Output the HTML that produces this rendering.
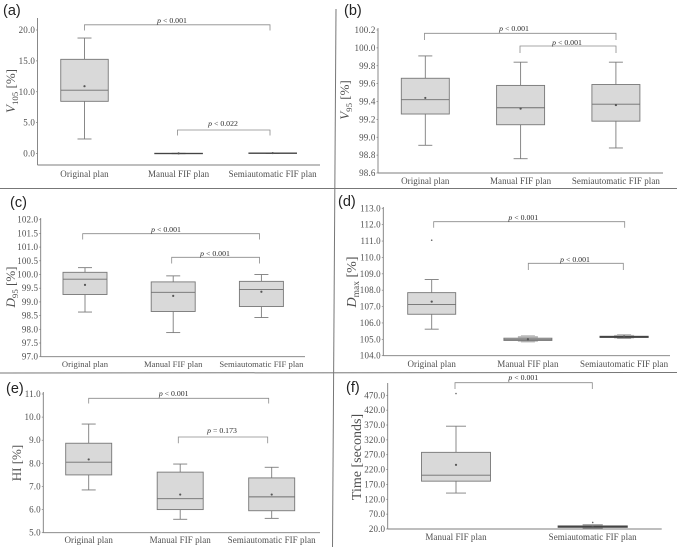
<!DOCTYPE html>
<html lang="en">
<head>
<meta charset="utf-8">
<title>Box plots of plan comparison</title>
<style>
html,body{margin:0;padding:0;background:#fff;}
svg{display:block;filter:blur(0.3px);font-family:"Liberation Serif",serif;}
</style>
</head>
<body>
<svg id="figure" xmlns="http://www.w3.org/2000/svg" width="677" height="547" viewBox="0 0 677 547">
  <rect x="0" y="0" width="677" height="547" fill="#fff"/>
  <line x1="0" y1="188.5" x2="677" y2="188.5" stroke="#777" stroke-width="1"/>
  <line x1="0" y1="373" x2="677" y2="372.5" stroke="#777" stroke-width="1"/>
  <line x1="336" y1="9" x2="332.5" y2="547" stroke="#777" stroke-width="1"/>
</svg>
<script>
// Shared categories
const threeCategories = ["Original plan", "Manual FIF plan", "Semiautomatic FIF plan"];
const twoCategories = ["Manual FIF plan", "Semiautomatic FIF plan"];

// Panel (a) V105
const aTicks = [0, 5, 10, 15, 20];
const aWhiskerHigh = [18.7, 0.03, 0.08];
const aQ3 = [15.25, 0.02, 0.07];
const aMedian = [10.25, 0, 0.05];
const aQ1 = [8.45, -0.02, 0.03];
const aWhiskerLow = [2.35, -0.03, 0.02];
const aMean = [10.9, 0.02, 0.07];
const aOutliers = [[], [], []];

// Panel (b) V95
const bTicks = [98.6, 98.8, 99, 99.2, 99.4, 99.6, 99.8, 100, 100.2];
const bWhiskerHigh = [99.91, 99.84, 99.84];
const bQ3 = [99.66, 99.58, 99.59];
const bMedian = [99.42, 99.33, 99.37];
const bQ1 = [99.26, 99.14, 99.18];
const bWhiskerLow = [98.91, 98.76, 98.88];
const bMean = [99.44, 99.32, 99.36];
const bOutliers = [[], [], []];

// Panel (c) D95
const cTicks = [97, 97.5, 98, 98.5, 99, 99.5, 100, 100.5, 101, 101.5, 102];
const cWhiskerHigh = [100.25, 99.95, 100.0];
const cQ3 = [100.08, 99.73, 99.75];
const cMedian = [99.83, 99.35, 99.45];
const cQ1 = [99.27, 98.65, 98.83];
const cWhiskerLow = [98.63, 97.88, 98.43];
const cMean = [99.62, 99.22, 99.37];
const cOutliers = [[], [], []];

// Panel (d) Dmax
const dTicks = [104, 105, 106, 107, 108, 109, 110, 111, 112, 113];
const dWhiskerHigh = [108.65, 105.2, 105.27];
const dQ3 = [107.85, 105.07, 105.18];
const dMedian = [107.13, 105.0, 105.15];
const dQ1 = [106.53, 104.93, 105.12];
const dWhiskerLow = [105.62, 104.85, 105.05];
const dMean = [107.3, 105.0, 105.18];
const dOutliers = [[111.05], [], []];

// Panel (e) HI
const eTicks = [5, 6, 7, 8, 9, 10, 11];
const eWhiskerHigh = [9.7, 7.97, 7.83];
const eQ3 = [8.87, 7.62, 7.37];
const eMedian = [8.05, 6.47, 6.55];
const eQ1 = [7.5, 6.0, 5.95];
const eWhiskerLow = [6.85, 5.58, 5.62];
const eMean = [8.17, 6.65, 6.65];
const eOutliers = [[], [], []];

// Panel (f) Time
const fTicks = [20, 70, 120, 170, 220, 270, 320, 370, 420, 470];
const fWhiskerHigh = [366, 35];
const fQ3 = [278, 30];
const fMedian = [201, 28];
const fQ1 = [181, 26];
const fWhiskerLow = [141, 23];
const fMean = [236, 28];
const fOutliers = [[476], [42]];

const svg = document.getElementById('figure');
const NS = 'http://www.w3.org/2000/svg';
const INK = '#7c7c7c';
const TEXT = '#4f4f4f';

function make(parent, tag, attrs, text) {
  const node = document.createElementNS(NS, tag);
  for (const key in attrs) node.setAttribute(key, attrs[key]);
  if (text !== undefined) node.textContent = text;
  parent.appendChild(node);
  return node;
}

function drawPanel(p) {
  const yOf = v => p.yFirst + (v - p.ticks[0]) / (p.ticks[p.ticks.length - 1] - p.ticks[0]) * (p.yLast - p.yFirst);
  const xOf = i => p.c0 + i * p.step;

  const g = make(svg, 'g', {});
  
  

  const letter = make(g, 'text', {x: p.letter[0], y: p.letter[1], 'font-family': '"Liberation Sans",sans-serif', 'font-size': 14.5, fill: '#222'}, '(' + p.id + ')');
  
  

  const yAxis = make(g, 'line', {x1: p.ax, x2: p.ax, y1: p.top, y2: p.bottom, stroke: INK, 'stroke-width': 0.9});
  
  

  const xAxis = make(g, 'line', {x1: p.ax, x2: p.xEnd, y1: p.bottom, y2: p.bottom, stroke: INK, 'stroke-width': 0.9});
  
  

  p.ticks.forEach(t => {
    const tick = make(g, 'line', {x1: p.ax - 1.5, x2: p.ax, y1: yOf(t), y2: yOf(t), stroke: INK, 'stroke-width': 0.7});
    
    

    const label = make(g, 'text', {x: p.ax - 2.5, y: yOf(t) + 3, 'text-anchor': 'end', 'font-size': 9, 'letter-spacing': 0.15, fill: TEXT}, t.toFixed(1));
    
    
  });

  const title = make(g, 'text', {transform: 'translate(' + p.title.x + ',' + p.title.y + ') rotate(-90)', 'text-anchor': 'middle', 'font-size': p.title.size, fill: TEXT});
  
  
  if (p.title.sub) {
    make(title, 'tspan', {'font-style': 'italic'}, p.title.main);
    make(title, 'tspan', {dy: 3, 'font-size': p.title.size * 0.68}, p.title.sub);
    make(title, 'tspan', {dy: -3}, ' ' + p.title.rest);
  } else {
    title.textContent = p.title.main;
  }

  p.categories.forEach((cat, i) => {
    const cx = xOf(i);
    const boxH = yOf(p.q1[i]) - yOf(p.q3[i]);
    const box = make(g, 'g', {});
    
    

    const wStem = make(box, 'line', {x1: cx, x2: cx, y1: yOf(p.high[i]), y2: yOf(p.low[i]), stroke: INK, 'stroke-width': 0.9});
    
    

    [p.high[i], p.low[i]].forEach(v => {
      const cap = make(box, 'line', {x1: cx - p.cap, x2: cx + p.cap, y1: yOf(v), y2: yOf(v), stroke: INK, 'stroke-width': 0.9});
      
      
    });

    if (boxH < 4) {
      const band = make(box, 'rect', {x: cx - 10, y: yOf(p.high[i]), width: 20, height: yOf(p.low[i]) - yOf(p.high[i]), fill: '#bdbdbd'});
      
      
    }

    const thin = boxH < 1.5;
    const rect = make(box, 'rect', {x: cx - p.boxW / 2, y: yOf(p.q3[i]), width: p.boxW, height: boxH, fill: '#d9d9d9', stroke: thin ? '#444' : '#777', 'stroke-width': thin ? 1.1 : 0.9});
    
    

    const med = make(box, 'line', {x1: cx - p.boxW / 2, x2: cx + p.boxW / 2, y1: yOf(p.median[i]), y2: yOf(p.median[i]), stroke: thin ? '#444' : '#6f6f6f', 'stroke-width': 0.9});
    
    

    const mean = make(box, 'circle', {cx: cx, cy: yOf(p.mean[i]), r: 1.1, fill: '#555'});
    
    

    p.outliers[i].forEach(v => {
      const o = make(box, 'circle', {cx: cx, cy: yOf(v), r: 0.8, fill: '#666'});
      
      
    });

    const catLabel = make(g, 'text', {x: cx, y: p.catY, 'text-anchor': 'middle', 'font-size': p.catSize, 'letter-spacing': 0.05, fill: TEXT}, cat);
    
    
  });

  p.brackets.forEach(b => {
    const br = make(g, 'path', {d: 'M' + b.l + ' ' + b.tip + 'V' + b.top + 'H' + b.r + 'V' + b.tip, fill: 'none', stroke: '#8a8a8a', 'stroke-width': 0.8});
    
    

    const lab = make(g, 'text', {x: b.lx, y: b.ly, 'text-anchor': 'middle', 'font-size': 7.8, fill: '#2a2a2a'});
    
    
    make(lab, 'tspan', {'font-style': 'italic'}, 'p');
    make(lab, 'tspan', {}, ' ' + b.text);
  });
}

drawPanel({id: 'a', categories: threeCategories, ticks: aTicks, high: aWhiskerHigh, q3: aQ3, median: aMedian, q1: aQ1, low: aWhiskerLow, mean: aMean, outliers: aOutliers,
  ax: 37.5, top: 18, bottom: 165, xEnd: 320, yFirst: 153.5, yLast: 30, c0: 84.5, step: 94.1, boxW: 47.5, cap: 7, catY: 177, catSize: 9,
  letter: [3, 15], title: {x: 15, y: 91, size: 13, main: 'V', sub: '105', rest: '[%]'},
  brackets: [{l: 84.5, r: 270, top: 24.8, tip: 30.5, lx: 172, ly: 23, text: '< 0.001'}, {l: 177.5, r: 270, top: 130, tip: 135.5, lx: 223, ly: 126, text: '< 0.022'}]});

drawPanel({id: 'b', categories: threeCategories, ticks: bTicks, high: bWhiskerHigh, q3: bQ3, median: bMedian, q1: bQ1, low: bWhiskerLow, mean: bMean, outliers: bOutliers,
  ax: 378, top: 28, bottom: 173, xEnd: 663, yFirst: 173, yLast: 30, c0: 425.3, step: 95.3, boxW: 48, cap: 7, catY: 184, catSize: 9,
  letter: [344, 15], title: {x: 349, y: 100, size: 13, main: 'V', sub: '95', rest: '[%]'},
  brackets: [{l: 424.5, r: 616, top: 33.3, tip: 40, lx: 514, ly: 31, text: '< 0.001'}, {l: 520, r: 616, top: 46, tip: 53, lx: 567, ly: 45, text: '< 0.001'}]});

drawPanel({id: 'c', categories: threeCategories, ticks: cTicks, high: cWhiskerHigh, q3: cQ3, median: cMedian, q1: cQ1, low: cWhiskerLow, mean: cMean, outliers: cOutliers,
  ax: 40.7, top: 218, bottom: 356.7, xEnd: 305, yFirst: 356.7, yLast: 219.7, c0: 85, step: 88.2, boxW: 44, cap: 7, catY: 367, catSize: 8.6,
  letter: [10, 207], title: {x: 15, y: 287, size: 13, main: 'D', sub: '95', rest: '[%]'},
  brackets: [{l: 82.7, r: 259.5, top: 233.7, tip: 239.5, lx: 166, ly: 232, text: '< 0.001'}, {l: 171.7, r: 259.5, top: 257.3, tip: 263.5, lx: 215, ly: 256, text: '< 0.001'}]});

drawPanel({id: 'd', categories: threeCategories, ticks: dTicks, high: dWhiskerHigh, q3: dQ3, median: dMedian, q1: dQ1, low: dWhiskerLow, mean: dMean, outliers: dOutliers,
  ax: 383.3, top: 207, bottom: 355.7, xEnd: 670, yFirst: 355.7, yLast: 208.3, c0: 431.7, step: 96.2, boxW: 48, cap: 7, catY: 367, catSize: 9,
  letter: [338, 206], title: {x: 356, y: 282, size: 14, main: 'D', sub: 'max', rest: '[%]'},
  brackets: [{l: 433.7, r: 624.7, top: 221.7, tip: 227.7, lx: 523.3, ly: 220, text: '< 0.001'}, {l: 528.3, r: 623.3, top: 263.3, tip: 270, lx: 575, ly: 262, text: '< 0.001'}]});

drawPanel({id: 'e', categories: threeCategories, ticks: eTicks, high: eWhiskerHigh, q3: eQ3, median: eMedian, q1: eQ1, low: eWhiskerLow, mean: eMean, outliers: eOutliers,
  ax: 43.3, top: 392, bottom: 532.7, xEnd: 320, yFirst: 532.7, yLast: 394, c0: 88.7, step: 91.5, boxW: 46, cap: 7, catY: 543, catSize: 9,
  letter: [6, 393], title: {x: 21, y: 463, size: 13, main: 'HI [%]'},
  brackets: [{l: 88.7, r: 268.7, top: 398.3, tip: 403.5, lx: 173.7, ly: 396, text: '< 0.001'}, {l: 178.3, r: 267.7, top: 437, tip: 443.3, lx: 222, ly: 433, text: '= 0.173'}]});

drawPanel({id: 'f', categories: twoCategories, ticks: fTicks, high: fWhiskerHigh, q3: fQ3, median: fMedian, q1: fQ1, low: fWhiskerLow, mean: fMean, outliers: fOutliers,
  ax: 387.7, top: 383, bottom: 529, xEnd: 661.7, yFirst: 529, yLast: 395.3, c0: 456, step: 136.7, boxW: 69, cap: 10, catY: 540, catSize: 9,
  letter: [346, 392], title: {x: 361, y: 457, size: 14, main: 'Time [seconds]'},
  brackets: [{l: 455, r: 592.3, top: 382.7, tip: 389, lx: 523.3, ly: 380, text: '< 0.001'}]});
</script>
</body>
</html>
